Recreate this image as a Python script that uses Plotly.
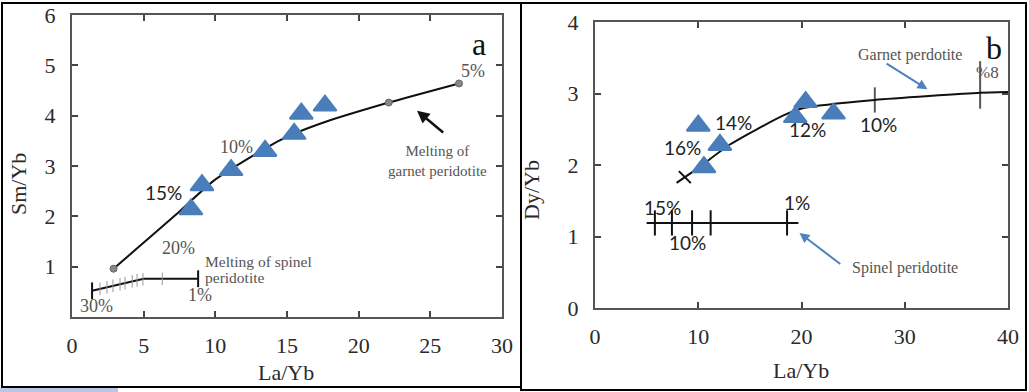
import plotly.graph_objects as go

W, H = 1029, 392

# ---------------- Panel a data ----------------
a_garnet_x = [2.9, 7.2, 9.85, 12.6, 14.7, 17.3, 22.1, 27.0]
a_garnet_y = [0.96, 2.02, 2.7, 3.2, 3.54, 3.84, 4.26, 4.64]
a_dots_x = [2.9, 22.1, 27.0]
a_dots_y = [0.96, 4.26, 4.64]

a_spinel_x = [1.4, 5.0, 8.8]
a_spinel_y = [0.52, 0.76, 0.76]
a_hatch_x = [1.95, 2.44, 2.86, 3.35, 3.7, 4.2, 4.54, 4.95, 6.3]
a_hatch_y = [0.56, 0.59, 0.62, 0.65, 0.67, 0.71, 0.73, 0.75, 0.76]
a_end_x = [1.4, 8.8]
a_end_y = [0.52, 0.76]

a_samples_x = [8.3, 9.07, 11.1, 13.47, 15.5, 16.0, 17.65]
a_samples_y = [2.14, 2.62, 2.92, 3.3, 3.64, 4.04, 4.2]

# ---------------- Panel b data ----------------
b_garnet_x = [7.9, 10.0, 13.1, 18.2, 20.3, 27.1, 37.3, 40.0]
b_garnet_y = [1.75, 1.96, 2.29, 2.69, 2.8, 2.91, 3.01, 3.02]
b_cross_x = [8.7]
b_cross_y = [1.83]
b_gticks_x = [27.1, 37.3]
b_gticks_y = [2.91, 3.12]
b_gticks_size = [18, 34]

b_spinel_x = [5.0, 19.7]
b_spinel_y = [1.19, 1.19]
b_sticks_x = [5.8, 7.45, 9.4, 11.2, 18.6]
b_sticks_y = [1.19, 1.19, 1.19, 1.19, 1.19]

b_samples_x = [10.0, 12.1, 10.55, 19.4, 20.4, 23.1]
b_samples_y = [2.55, 2.28, 1.97, 2.67, 2.88, 2.72]

# ---------------- Text labels ----------------
a_serif_labels = [("5%", 28.0, 4.88), ("10%", 11.5, 3.38), ("20%", 7.4, 1.38),
                  ("30%", 1.74, 0.22), ("1%", 8.93, 0.44)]
a_sans_labels = [("15%", 6.4, 2.48)]
b_sans_labels = [("14%", 13.4, 2.59), ("16%", 8.5, 2.24), ("12%", 20.6, 2.49),
                 ("10%", 27.5, 2.56), ("15%", 6.5, 1.41), ("1%", 19.55, 1.47),
                 ("10%", 9.0, 0.91)]

TRI = "#4A7EBB"
SERIF = "Liberation Serif, Times New Roman, serif"
SANS = "Lato, Carlito, sans-serif"
GRAY = "#555555"

fig = go.Figure()

# Panel a traces
fig.add_trace(go.Scatter(x=a_garnet_x, y=a_garnet_y, mode="lines",
                         line=dict(color="#111", width=2, shape="spline", smoothing=0.6),
                         xaxis="x", yaxis="y", hoverinfo="skip"))
fig.add_trace(go.Scatter(x=a_dots_x, y=a_dots_y, mode="markers",
                         marker=dict(color="#888", size=7, line=dict(color="#666", width=1)),
                         xaxis="x", yaxis="y"))
fig.add_trace(go.Scatter(x=a_spinel_x, y=a_spinel_y, mode="lines",
                         line=dict(color="#111", width=2), xaxis="x", yaxis="y"))
fig.add_trace(go.Scatter(x=a_hatch_x, y=a_hatch_y, mode="markers",
                         marker=dict(symbol="line-ns", size=9, line=dict(color="#999", width=1)),
                         xaxis="x", yaxis="y"))
fig.add_trace(go.Scatter(x=a_end_x, y=a_end_y, mode="markers",
                         marker=dict(symbol="line-ns", size=12, line=dict(color="#111", width=2)),
                         xaxis="x", yaxis="y"))
fig.add_trace(go.Scatter(x=a_samples_x, y=a_samples_y, mode="markers",
                         marker=dict(symbol="triangle-up", size=20, color=TRI,
                                     line=dict(color=TRI, width=2)),
                         xaxis="x", yaxis="y"))

# Panel b traces
fig.add_trace(go.Scatter(x=b_garnet_x, y=b_garnet_y, mode="lines",
                         line=dict(color="#111", width=2, shape="spline", smoothing=0.5),
                         xaxis="x2", yaxis="y2"))
fig.add_trace(go.Scatter(x=b_cross_x, y=b_cross_y, mode="markers",
                         marker=dict(symbol="line-nw", size=12, line=dict(color="#111", width=2)),
                         xaxis="x2", yaxis="y2"))
fig.add_trace(go.Scatter(x=b_gticks_x, y=b_gticks_y, mode="markers",
                         marker=dict(symbol="line-ns", size=b_gticks_size,
                                     line=dict(color="#111", width=2)),
                         xaxis="x2", yaxis="y2"))
fig.add_trace(go.Scatter(x=b_spinel_x, y=b_spinel_y, mode="lines",
                         line=dict(color="#111", width=2), xaxis="x2", yaxis="y2"))
fig.add_trace(go.Scatter(x=b_sticks_x, y=b_sticks_y, mode="markers",
                         marker=dict(symbol="line-ns", size=18, line=dict(color="#111", width=2)),
                         xaxis="x2", yaxis="y2"))
fig.add_trace(go.Scatter(x=b_samples_x, y=b_samples_y, mode="markers",
                         marker=dict(symbol="triangle-up", size=20, color=TRI,
                                     line=dict(color=TRI, width=2)),
                         xaxis="x2", yaxis="y2"))

def px_x(p):
    return p / W

def px_y(p):
    return 1 - p / H

axis_common = dict(showgrid=False, zeroline=False, showline=True, mirror="allticks",
                   linecolor="#555", linewidth=2, ticks="inside", ticklen=6, tickwidth=2,
                   tickcolor="#444", tickfont=dict(family=SERIF, size=22, color="#2a2a2a"),
                   fixedrange=True, automargin=False)

fig.update_layout(
    width=W, height=H, margin=dict(l=0, r=0, t=0, b=0, pad=0, autoexpand=False),
    paper_bgcolor="white", plot_bgcolor="white", showlegend=False,
    xaxis=dict(domain=[px_x(72), px_x(502)], range=[0, 30], tickvals=[0, 5, 10, 15, 20, 25, 30],
               anchor="y", ticklabelstandoff=8, **axis_common),
    yaxis=dict(domain=[px_y(317), px_y(15)], range=[0, 6], tickvals=[1, 2, 3, 4, 5, 6],
               anchor="x", ticklabelstandoff=10, **axis_common),
    xaxis2=dict(domain=[px_x(595), px_x(1008)], range=[0, 40], tickvals=[0, 10, 20, 30, 40],
                anchor="y2", ticklabelstandoff=8, **axis_common),
    yaxis2=dict(domain=[px_y(308), px_y(22)], range=[0, 4], tickvals=[0, 1, 2, 3, 4],
                anchor="x2", ticklabelstandoff=10, **axis_common),
)

ann = []
# panel letters
ann.append(dict(text="a", x=28.4, y=5.42, xref="x", yref="y", showarrow=False,
                font=dict(family=SERIF, size=32, color="#111")))
ann.append(dict(text="b", x=38.6, y=3.64, xref="x2", yref="y2", showarrow=False,
                font=dict(family=SERIF, size=32, color="#111")))
for t, x, y in a_serif_labels:
    ann.append(dict(text=t, x=x, y=y, xref="x", yref="y", showarrow=False,
                    font=dict(family=SERIF, size=18, color=GRAY)))
for t, x, y in a_sans_labels:
    ann.append(dict(text=t, x=x, y=y, xref="x", yref="y", showarrow=False,
                    font=dict(family=SANS, size=19, color="#222")))
for t, x, y in b_sans_labels:
    ann.append(dict(text=t, x=x, y=y, xref="x2", yref="y2", showarrow=False,
                    font=dict(family=SANS, size=19, color="#222")))
ann.append(dict(text="%8", x=38.0, y=3.29, xref="x2", yref="y2", showarrow=False,
                font=dict(family=SERIF, size=17, color=GRAY)))
ann.append(dict(text="Melting of<br>garnet peridotite", x=25.5, y=3.1, xref="x", yref="y",
                showarrow=False, align="center",
                font=dict(family=SERIF, size=15, color=GRAY)))
ann.append(dict(text="Melting of spinel", x=9.14, y=1.1, xref="x", yref="y",
                showarrow=False, xanchor="left",
                font=dict(family=SERIF, size=15.5, color=GRAY)))
ann.append(dict(text="peridotite", x=9.14, y=0.78, xref="x", yref="y",
                showarrow=False, xanchor="left",
                font=dict(family=SERIF, size=15.5, color=GRAY)))
ann.append(dict(text="Garnet perdotite", x=30.5, y=3.54, xref="x2", yref="y2",
                showarrow=False, font=dict(family=SERIF, size=16, color=GRAY)))
ann.append(dict(text="Spinel peridotite", x=30.0, y=0.56, xref="x2", yref="y2",
                showarrow=False, font=dict(family=SERIF, size=16, color=GRAY)))
# arrows
ann.append(dict(text="", x=24.07, y=4.1, ax=26.0, ay=3.64, xref="x", yref="y",
                axref="x", ayref="y", showarrow=True, arrowhead=2, arrowsize=1,
                arrowwidth=2.5, arrowcolor="#111"))
ann.append(dict(text="", x=32.2, y=3.06, ax=28.1, ay=3.43, xref="x2", yref="y2",
                axref="x2", ayref="y2", showarrow=True, arrowhead=2, arrowsize=1,
                arrowwidth=2, arrowcolor="#4F81BD"))
ann.append(dict(text="", x=19.8, y=1.05, ax=23.9, ay=0.6, xref="x2", yref="y2",
                axref="x2", ayref="y2", showarrow=True, arrowhead=2, arrowsize=1,
                arrowwidth=2, arrowcolor="#4F81BD"))
# axis titles
title_font = dict(family=SERIF, size=22, color="#2a2a2a")
ann.append(dict(text="Sm/Yb", x=px_x(18), y=px_y(184), xref="paper", yref="paper",
                xanchor="center", yanchor="middle",
                showarrow=False, textangle=-90, font=title_font))
ann.append(dict(text="La/Yb", x=px_x(286), y=px_y(372), xref="paper", yref="paper",
                xanchor="center", yanchor="middle", showarrow=False, font=title_font))
ann.append(dict(text="Dy/Yb", x=px_x(532), y=px_y(190), xref="paper", yref="paper",
                xanchor="center", yanchor="middle",
                showarrow=False, textangle=-90, font=title_font))
ann.append(dict(text="La/Yb", x=px_x(801), y=px_y(370), xref="paper", yref="paper",
                xanchor="center", yanchor="middle", showarrow=False, font=title_font))
fig.update_layout(annotations=ann)

shapes = [
    dict(type="rect", xref="paper", yref="paper", x0=px_x(0), x1=px_x(118),
         y0=px_y(392), y1=px_y(388), fillcolor="#B8C8E4", line=dict(width=0), layer="below"),
    dict(type="rect", xref="paper", yref="paper", x0=px_x(2), x1=px_x(521),
         y0=px_y(387), y1=px_y(3), line=dict(color="#000", width=2)),
    dict(type="rect", xref="paper", yref="paper", x0=px_x(521), x1=px_x(1026),
         y0=px_y(390), y1=px_y(3), line=dict(color="#000", width=2)),
]
fig.update_layout(shapes=shapes)

fig.write_html("out.html", config={"displayModeBar": False},
               post_script="document.body.style.margin='0';document.body.style.padding='0';"
                           "document.body.style.overflow='hidden';")
